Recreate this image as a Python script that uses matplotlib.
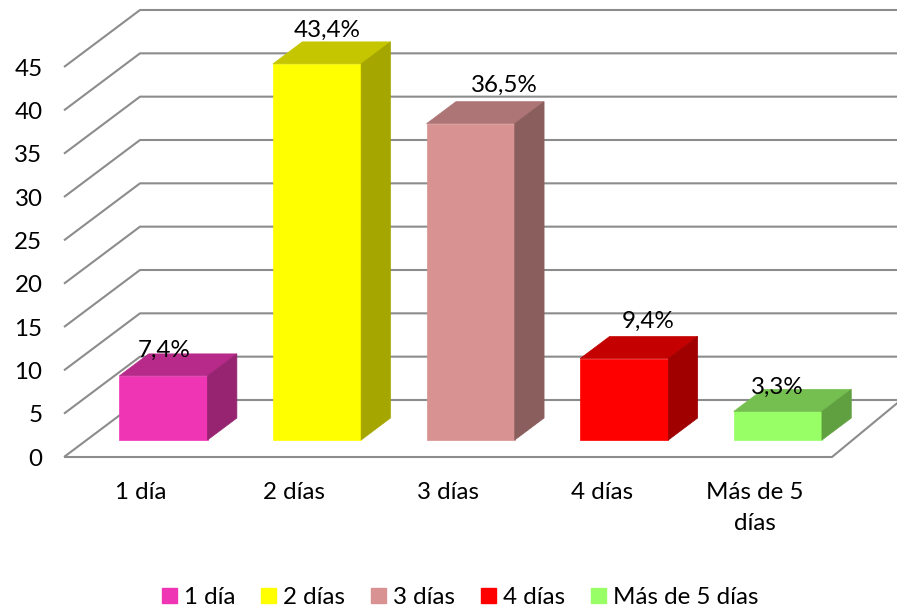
import matplotlib
matplotlib.use("Agg")
import matplotlib.pyplot as plt
from matplotlib.patches import Patch, Polygon

plt.rcParams['font.family'] = ['Lato', 'DejaVu Sans']

categories = ['1 día', '2 días', '3 días', '4 días', 'Más de 5 días']
tick_labels = ['1 día', '2 días', '3 días', '4 días', 'Más de 5\ndías']
values = [7.4, 43.4, 36.5, 9.4, 3.3]
value_labels = ['7,4%', '43,4%', '36,5%', '9,4%', '3,3%']
y_ticks = [0, 5, 10, 15, 20, 25, 30, 35, 40, 45]

front_colors = ['#F035B4', '#FFFF00', '#D89292', '#FF0000', '#99FF66']
top_colors = ['#B82A8A', '#C6C600', '#AD7575', '#C40000', '#75BF50']
side_colors = ['#962470', '#A6A600', '#8B5E5E', '#A00000', '#60A040']
label_offsets_px = [(1, 26), (10, 34), (34, 38), (24, 37), (-1, 24)]

W, H = 897, 608
L, R, T, B = 64, 832, 67, 457
FS = 17.4
GRID = '#8C8C8C'

fig = plt.figure(figsize=(W / 100, H / 100), dpi=100, facecolor='white')
ax = fig.add_axes([L / W, 1 - B / H, (R - L) / W, (B - T) / H])
ax.set_xlim(0, len(values))
ax.set_ylim(0, 45)
for s in ax.spines.values():
    s.set_visible(False)
ax.patch.set_alpha(0)

px_x = (R - L) / len(values)
px_y = (B - T) / 45
DX = 76 / px_x      # full chart depth in x units
DY = 57 / px_y      # full chart depth in value units
DX_RIGHT = 69 / px_x
FAR = len(values) + 0.6


def proj(x, v, d):
    return x + d * DX, v + d * DY


line = dict(color=GRID, lw=1.5, clip_on=False, zorder=1, solid_capstyle='butt')
for v in y_ticks:
    x0, y0 = proj(0, v, 1)
    ax.plot([0, x0, FAR], [v, y0, y0], **line)
ax.plot([0, len(values), len(values) + DX_RIGHT], [0, 0, DY], **line)

D0, D1 = 0.298, 0.684
BW = 0.574
for i, val in enumerate(values):
    xl = i + 0.5 - BW / 2
    xr = i + 0.5 + BW / 2
    faces = [
        ([proj(xl, 0, D0), proj(xr, 0, D0), proj(xr, val, D0), proj(xl, val, D0)], front_colors[i]),
        ([proj(xl, val, D0), proj(xr, val, D0), proj(xr, val, D1), proj(xl, val, D1)], top_colors[i]),
        ([proj(xr, 0, D0), proj(xr, 0, D1), proj(xr, val, D1), proj(xr, val, D0)], side_colors[i]),
    ]
    for pts, col in faces:
        ax.add_patch(Polygon(pts, closed=True, facecolor=col, edgecolor=col, lw=0.5,
                             clip_on=False, zorder=3 + i))
    dx, dy = label_offsets_px[i]
    ax.annotate(value_labels[i], xy=proj(i + 0.5, val, D0),
                xytext=(dx * 0.72, dy * 0.72), textcoords='offset points',
                ha='center', va='center', fontsize=FS, color='black',
                annotation_clip=False, zorder=20)

ax.set_yticks(y_ticks)
ax.set_yticklabels([str(v) for v in y_ticks], fontsize=FS)
ax.set_xticks([i + 0.5 for i in range(len(values))])
ax.set_xticklabels(tick_labels, fontsize=FS, linespacing=1.6)
ax.tick_params(axis='y', length=0, pad=15.5)
ax.tick_params(axis='x', length=0, pad=18)

handles = [Patch(facecolor=c, edgecolor=c, label=n) for c, n in zip(front_colors, categories)]
ax.legend(handles=handles, ncol=5, frameon=False, fontsize=FS, loc='center',
          bbox_to_anchor=(460 / W, 1 - 597.5 / H), bbox_transform=fig.transFigure,
          handlelength=0.62, handleheight=0.62, handletextpad=0.29,
          columnspacing=1.07, borderaxespad=0, borderpad=0)

fig.savefig('out.png', dpi=100, facecolor='white')
